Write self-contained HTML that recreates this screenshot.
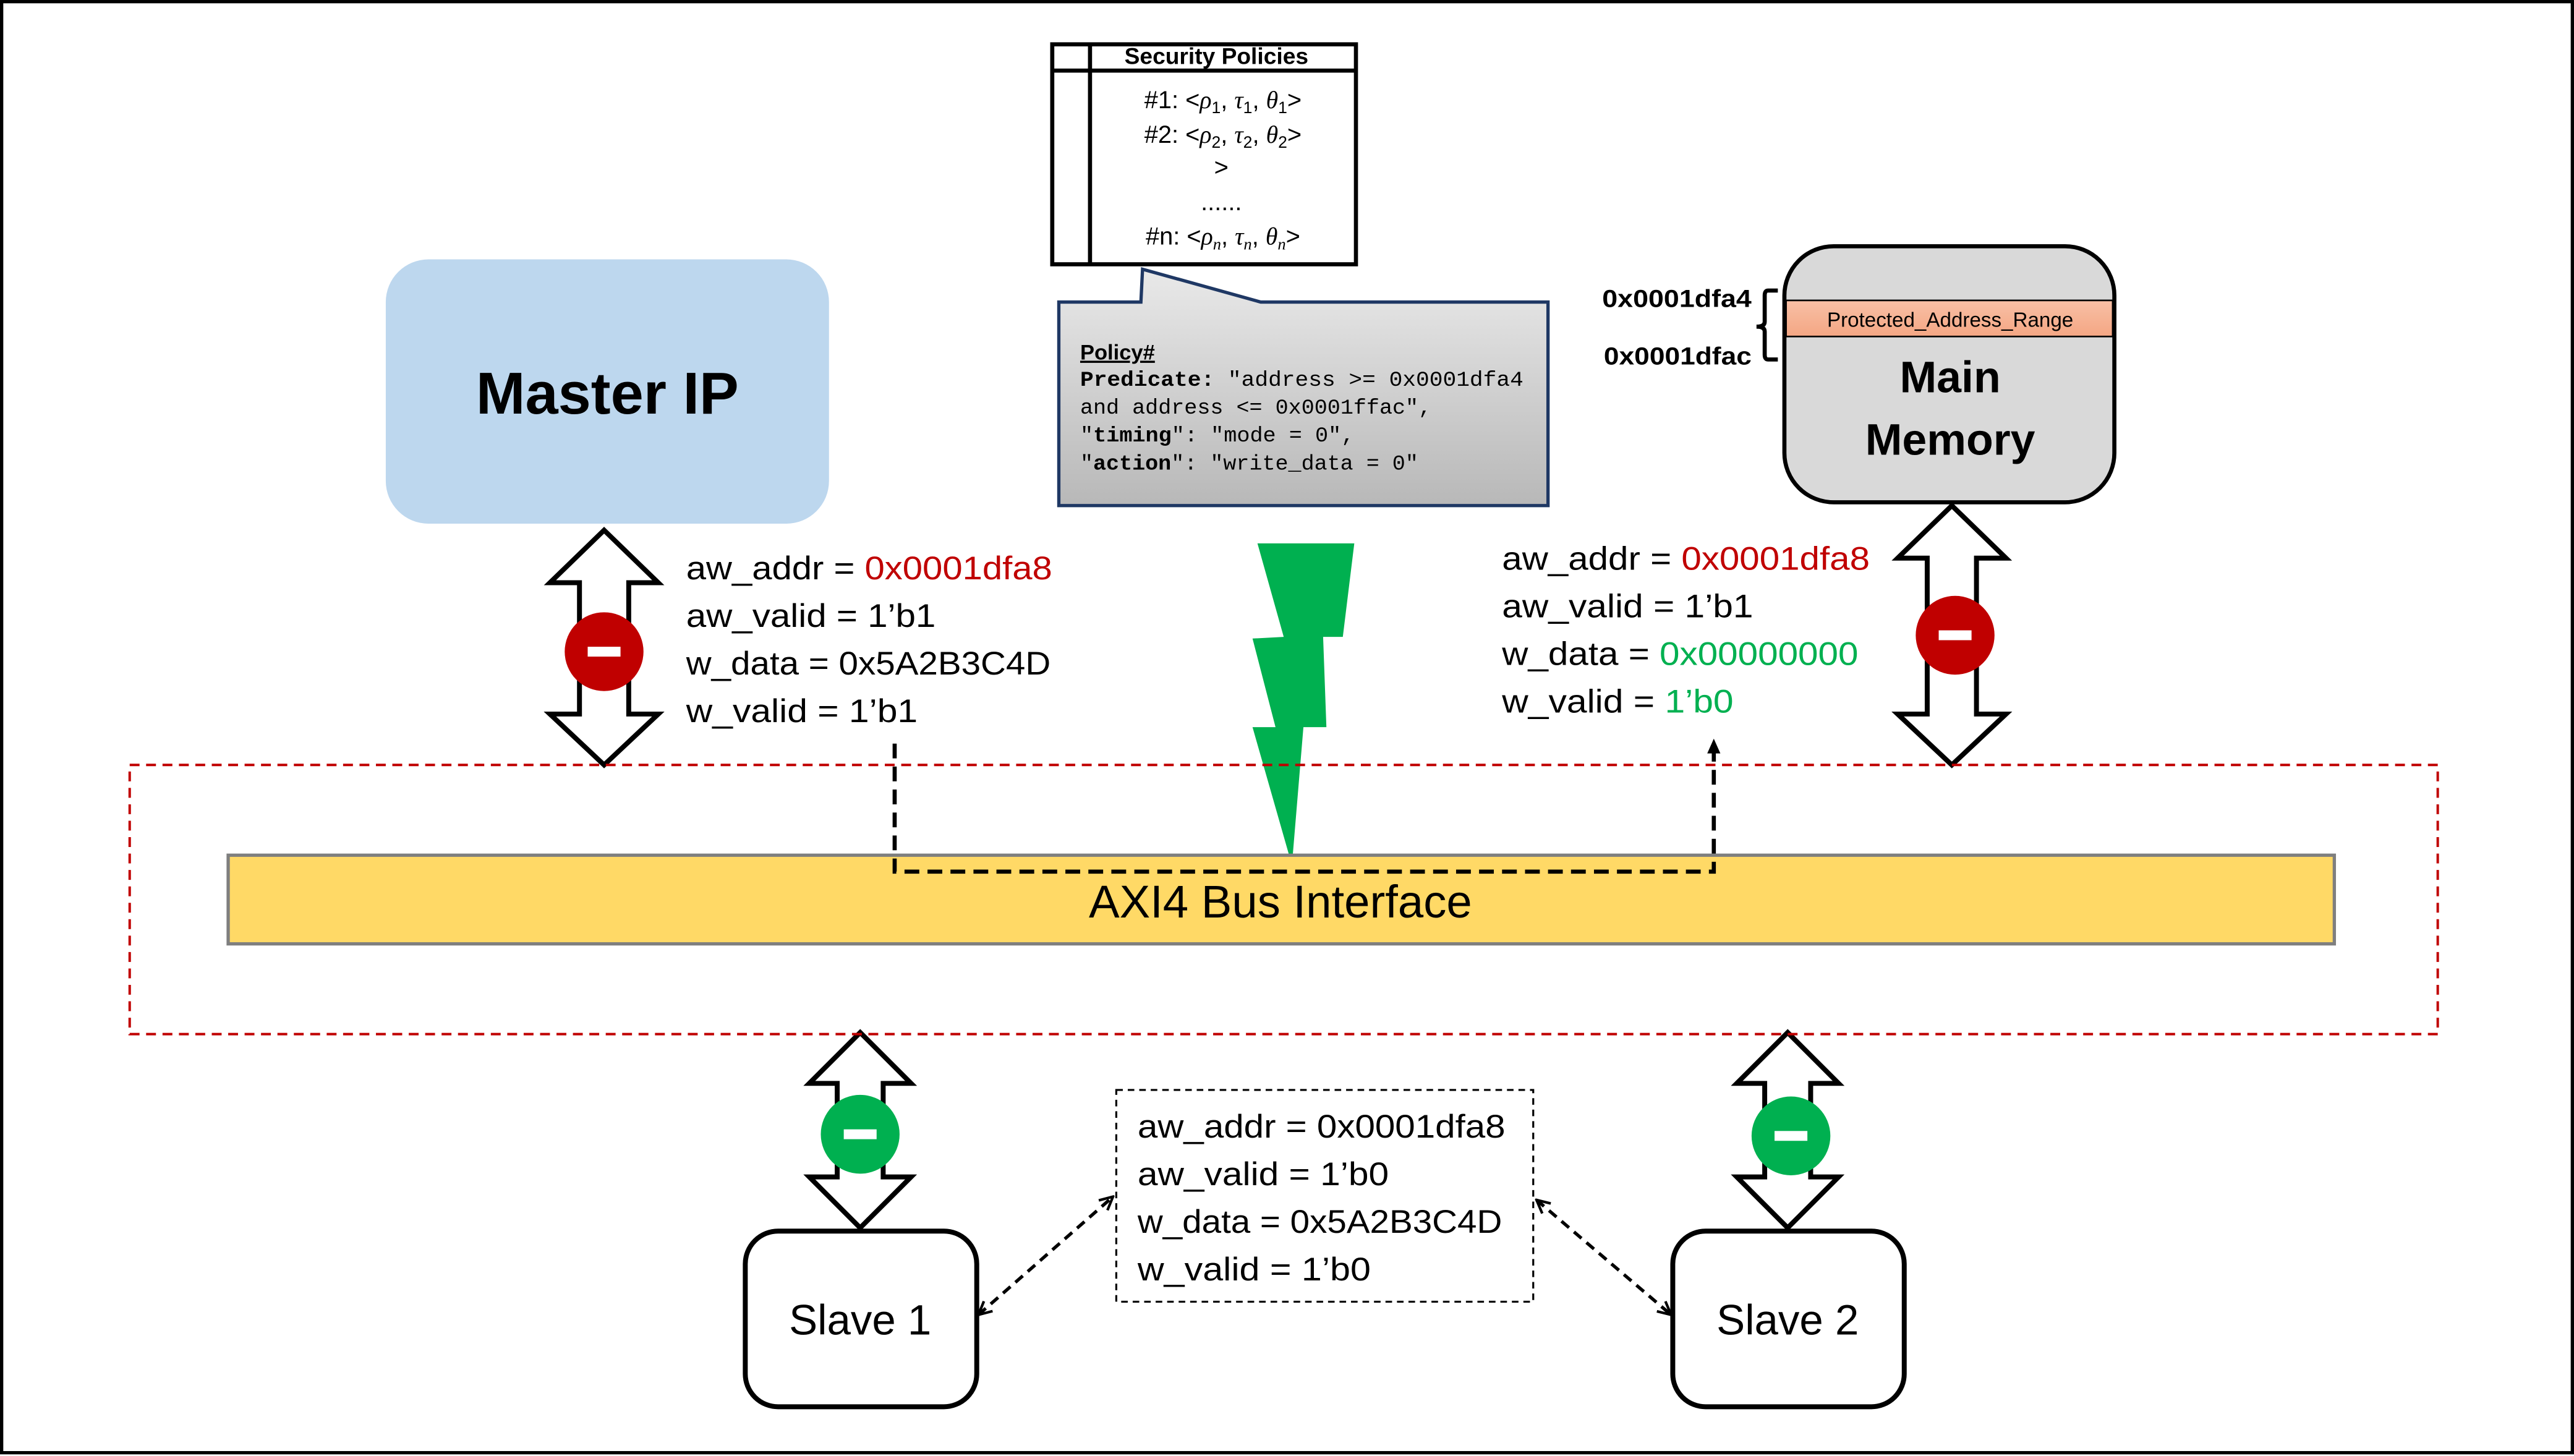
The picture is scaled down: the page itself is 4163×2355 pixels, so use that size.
<!DOCTYPE html>
<html><head><meta charset="utf-8"><style>
html,body{margin:0;padding:0;background:#fff}
svg{display:block}
text{font-family:"Liberation Sans",sans-serif}
.m{font-family:"Liberation Mono",monospace}
.s{font-family:"Liberation Serif",serif;font-style:italic}
</style></head><body>
<svg width="4163" height="2355" viewBox="0 0 1568 887" xmlns="http://www.w3.org/2000/svg">
<defs>
<linearGradient id="cg" x1="0" y1="0" x2="0" y2="1"><stop offset="0" stop-color="#e9e9e9"/><stop offset="1" stop-color="#b8b8b8"/></linearGradient>
<linearGradient id="pg" x1="0" y1="0" x2="0" y2="1"><stop offset="0" stop-color="#F8C0A6"/><stop offset="1" stop-color="#F4A683"/></linearGradient>
<marker id="ah" viewBox="0 0 10 10" refX="9" refY="5" markerWidth="5" markerHeight="5" orient="auto-start-reverse"><path d="M1,1 L9,5 L1,9" fill="none" stroke="#000" stroke-width="1.6"/></marker>
</defs>
<rect x="1" y="1" width="1566" height="884" fill="#fff" stroke="#000" stroke-width="2"/>

<rect x="235" y="158" width="270" height="161" rx="26" fill="#BDD7EE"/>
<text x="370" y="252" font-size="36" font-weight="bold" text-anchor="middle">Master IP</text>

<rect x="641" y="27" width="185" height="134" fill="#fff" stroke="#000" stroke-width="2.5"/>
<line x1="641" y1="43" x2="826" y2="43" stroke="#000" stroke-width="2.5"/>
<line x1="664" y1="27" x2="664" y2="161" stroke="#000" stroke-width="2.5"/>
<text x="741" y="39" font-size="14" font-weight="bold" text-anchor="middle">Security Policies</text>
<g font-size="15" text-anchor="middle">
<text x="745" y="66">#1: &lt;<tspan class="s">ρ</tspan><tspan font-size="10" dy="3">1</tspan><tspan dy="-3">, </tspan><tspan class="s">τ</tspan><tspan font-size="10" dy="3">1</tspan><tspan dy="-3">, </tspan><tspan class="s">θ</tspan><tspan font-size="10" dy="3">1</tspan><tspan dy="-3">&gt;</tspan></text>
<text x="745" y="87">#2: &lt;<tspan class="s">ρ</tspan><tspan font-size="10" dy="3">2</tspan><tspan dy="-3">, </tspan><tspan class="s">τ</tspan><tspan font-size="10" dy="3">2</tspan><tspan dy="-3">, </tspan><tspan class="s">θ</tspan><tspan font-size="10" dy="3">2</tspan><tspan dy="-3">&gt;</tspan></text>
<text x="744" y="107">&gt;</text>
<text x="744" y="128">......</text>
<text x="745" y="149">#n: &lt;<tspan class="s">ρ</tspan><tspan font-size="10" dy="3" class="s">n</tspan><tspan dy="-3">, </tspan><tspan class="s">τ</tspan><tspan font-size="10" dy="3" class="s">n</tspan><tspan dy="-3">, </tspan><tspan class="s">θ</tspan><tspan font-size="10" dy="3" class="s">n</tspan><tspan dy="-3">&gt;</tspan></text>
</g>

<path d="M645,184 L695,184 L696,164 L768,184 L943,184 L943,308 L645,308 Z" fill="url(#cg)" stroke="#1F3864" stroke-width="2"/>
<text x="658" y="219" font-size="13" font-weight="bold" text-decoration="underline">Policy#</text>
<g font-size="13">
<text x="658" y="235" class="m" textLength="270" lengthAdjust="spacingAndGlyphs"><tspan font-weight="bold">Predicate:</tspan> "address &gt;= 0x0001dfa4</text>
<text x="658" y="252" class="m" textLength="214" lengthAdjust="spacingAndGlyphs">and address &lt;= 0x0001ffac",</text>
<text x="658" y="269" class="m" textLength="167" lengthAdjust="spacingAndGlyphs">"<tspan font-weight="bold">timing</tspan>": "mode = 0",</text>
<text x="658" y="286" class="m" textLength="206" lengthAdjust="spacingAndGlyphs">"<tspan font-weight="bold">action</tspan>": "write_data = 0"</text>
</g>

<polygon points="766,331 825,331 818,388 806,388 808,443 794,443 787,527 763,443 777,443 763,389 782,388" fill="#00B050"/>

<rect x="1087" y="150" width="201" height="156" rx="30" fill="#D9D9D9" stroke="#000" stroke-width="2.5"/>
<rect x="1088" y="183" width="199" height="22" fill="url(#pg)" stroke="#000" stroke-width="1"/>
<text x="1188" y="199" font-size="12.5" text-anchor="middle">Protected_Address_Range</text>
<text x="1188" y="239" font-size="27" font-weight="bold" text-anchor="middle">Main</text>
<text x="1188" y="277" font-size="27" font-weight="bold" text-anchor="middle">Memory</text>
<text x="1067" y="187" font-size="15" font-weight="bold" text-anchor="end" textLength="91" lengthAdjust="spacingAndGlyphs">0x0001dfa4</text>
<text x="1067" y="222" font-size="15" font-weight="bold" text-anchor="end" textLength="90" lengthAdjust="spacingAndGlyphs">0x0001dfac</text>
<path d="M1083,177 L1077,177 Q1075,177 1075,180 L1075,196 Q1075,199 1070,199 Q1075,199 1075,202 L1075,216 Q1075,219 1077,219 L1083,219" fill="none" stroke="#000" stroke-width="2.5"/>

<g fill="#fff" stroke="#000" stroke-width="3" stroke-linejoin="miter">
<polygon points="368,323 401,355 383,355 383,435 401,435 368,466 335,435 353,435 353,355 335,355"/>
<polygon points="1189,308 1222,340 1204,340 1204,435 1222,435 1189,466 1156,435 1174,435 1174,340 1156,340"/>
<polygon points="524,629 555,660 538,660 538,717 555,717 524,748 493,717 510,717 510,660 493,660"/>
<polygon points="1089,629 1120,660 1103,660 1103,717 1120,717 1089,748 1058,717 1075,717 1075,660 1058,660"/>
</g>
<g>
<ellipse cx="368" cy="397" rx="24" ry="24" fill="#C00000"/><rect x="358" y="394" width="20" height="6" fill="#fff"/>
<ellipse cx="1191" cy="387" rx="24" ry="24" fill="#C00000"/><rect x="1181" y="384" width="20" height="6" fill="#fff"/>
<ellipse cx="524" cy="691" rx="24" ry="24" fill="#00B050"/><rect x="514" y="688" width="20" height="6" fill="#fff"/>
<ellipse cx="1091" cy="692" rx="24" ry="24" fill="#00B050"/><rect x="1081" y="689" width="20" height="6" fill="#fff"/>
</g>

<g font-size="20">
<text x="418" y="353" textLength="223" lengthAdjust="spacingAndGlyphs">aw_addr = <tspan fill="#C00000">0x0001dfa8</tspan></text>
<text x="418" y="382" textLength="152" lengthAdjust="spacingAndGlyphs">aw_valid = 1’b1</text>
<text x="418" y="411" textLength="222" lengthAdjust="spacingAndGlyphs">w_data = 0x5A2B3C4D</text>
<text x="418" y="440" textLength="141" lengthAdjust="spacingAndGlyphs">w_valid = 1’b1</text>
</g>
<g font-size="20">
<text x="915" y="347" textLength="224" lengthAdjust="spacingAndGlyphs">aw_addr = <tspan fill="#C00000">0x0001dfa8</tspan></text>
<text x="915" y="376" textLength="153" lengthAdjust="spacingAndGlyphs">aw_valid = 1’b1</text>
<text x="915" y="405" textLength="217" lengthAdjust="spacingAndGlyphs">w_data = <tspan fill="#00B050">0x00000000</tspan></text>
<text x="915" y="434" textLength="141" lengthAdjust="spacingAndGlyphs">w_valid = <tspan fill="#00B050">1’b0</tspan></text>
</g>

<rect x="79" y="466" width="1406" height="164" fill="none" stroke="#C00000" stroke-width="1.5" stroke-dasharray="6,4"/>

<rect x="139" y="521" width="1283" height="54" fill="#FFD966" stroke="#7F7F7F" stroke-width="2"/>
<text x="780" y="559" font-size="28" text-anchor="middle">AXI4 Bus Interface</text>

<path d="M545,453 L545,531 L1044,531 L1044,453" fill="none" stroke="#000" stroke-width="2.5" stroke-dasharray="9,5"/>
<path d="M1040,459 L1044,450 L1048,459 Z" fill="#000"/>

<rect x="454" y="750" width="141" height="107" rx="20" fill="#fff" stroke="#000" stroke-width="3"/>
<text x="524" y="813" font-size="26" text-anchor="middle">Slave 1</text>
<rect x="1019" y="750" width="141" height="107" rx="20" fill="#fff" stroke="#000" stroke-width="3"/>
<text x="1089" y="813" font-size="26" text-anchor="middle">Slave 2</text>

<rect x="680" y="664" width="254" height="129" fill="#fff" stroke="#000" stroke-width="1.2" stroke-dasharray="4,3"/>
<g font-size="20">
<text x="693" y="693" textLength="224" lengthAdjust="spacingAndGlyphs">aw_addr = 0x0001dfa8</text>
<text x="693" y="722" textLength="153" lengthAdjust="spacingAndGlyphs">aw_valid = 1’b0</text>
<text x="693" y="751" textLength="222" lengthAdjust="spacingAndGlyphs">w_data = 0x5A2B3C4D</text>
<text x="693" y="780" textLength="142" lengthAdjust="spacingAndGlyphs">w_valid = 1’b0</text>
</g>
<line x1="596" y1="801" x2="678" y2="729" stroke="#000" stroke-width="2" stroke-dasharray="6,4" marker-start="url(#ah)" marker-end="url(#ah)"/>
<line x1="936" y1="731" x2="1018" y2="801" stroke="#000" stroke-width="2" stroke-dasharray="6,4" marker-start="url(#ah)" marker-end="url(#ah)"/>
</svg>
</body></html>
